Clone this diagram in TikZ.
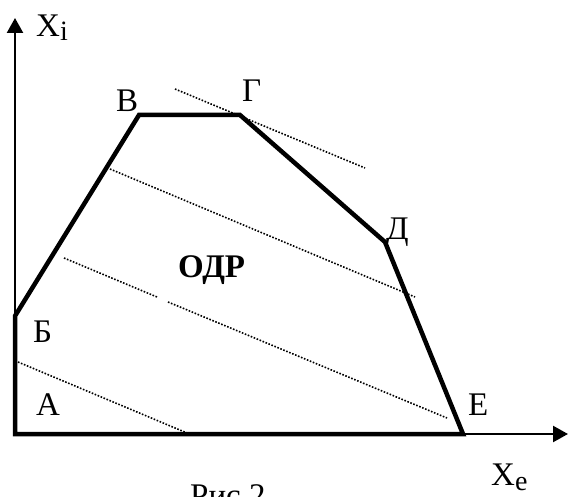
\documentclass[tikz,border=0pt]{standalone}
\usepackage{fontspec}
\setmainfont{Liberation Serif}
\usetikzlibrary{arrows.meta}
\begin{document}
\begin{tikzpicture}[x=1pt,y=-1pt,
  axisline/.style={line width=2.4pt,-{Triangle[length=15pt,width=16pt]}},
  region/.style={line width=4.5pt,line join=miter},
  level/.style={line width=1.6pt,dash pattern=on 1.6pt off 1.6pt},
  lbl/.style={anchor=base west,inner sep=0pt,font=\fontsize{33pt}{33pt}\selectfont}]
\useasboundingbox (0,0) rectangle (568,497);
% vertices
\coordinate (A) at (15,434);
\coordinate (B) at (15,316);
\coordinate (V) at (139,115);
\coordinate (G) at (240,115);
\coordinate (D) at (385,242);
\coordinate (E) at (463,434);
\coordinate (ytop) at (15,18);
\coordinate (xend) at (568,434);
% axes
\draw[axisline] (B) -- (ytop);
\draw[axisline] (E) -- (xend);
% region boundary
\draw[region] (B) -- (A) -- (E) -- (D) -- (G) -- (V) -- cycle;
% level lines
\coordinate (d1a) at (175,89);  \coordinate (d1b) at (365,168);
\coordinate (d2a) at (110,169); \coordinate (d2b) at (415,297);
\coordinate (d3a) at (64,258);  \coordinate (d3b) at (157,297);
\coordinate (d3c) at (168,302); \coordinate (d3d) at (447,418);
\coordinate (d4a) at (18,362);  \coordinate (d4b) at (187,433);
\draw[level] (d1a) -- (d1b);
\draw[level] (d2a) -- (d2b);
\draw[level] (d3a) -- (d3b);
\draw[level] (d3c) -- (d3d);
\draw[level] (d4a) -- (d4b);
% labels
\node[lbl] (lxi) at (36,37) {X\raisebox{-4pt}{\fontsize{28pt}{28pt}\selectfont i}};
\node[lbl] (lv) at (116,112) {В};
\node[lbl] (lg) at (242,102) {Г};
\node[lbl] (ld) at (386,240) {Д};
\node[lbl] (lb) at (33,342) {Б};
\node[lbl] (la) at (36,415) {А};
\node[lbl] (le) at (468,415) {Е};
\node[lbl] (lxe) at (491,485) {X\raisebox{-5pt}{\fontsize{28pt}{28pt}\selectfont e}};
\node[lbl,font=\fontsize{33pt}{33pt}\selectfont\bfseries] (odr) at (178,278) {ОДР};
\node[lbl] (cap) at (190,506) {Рис.2};
\end{tikzpicture}
\end{document}
